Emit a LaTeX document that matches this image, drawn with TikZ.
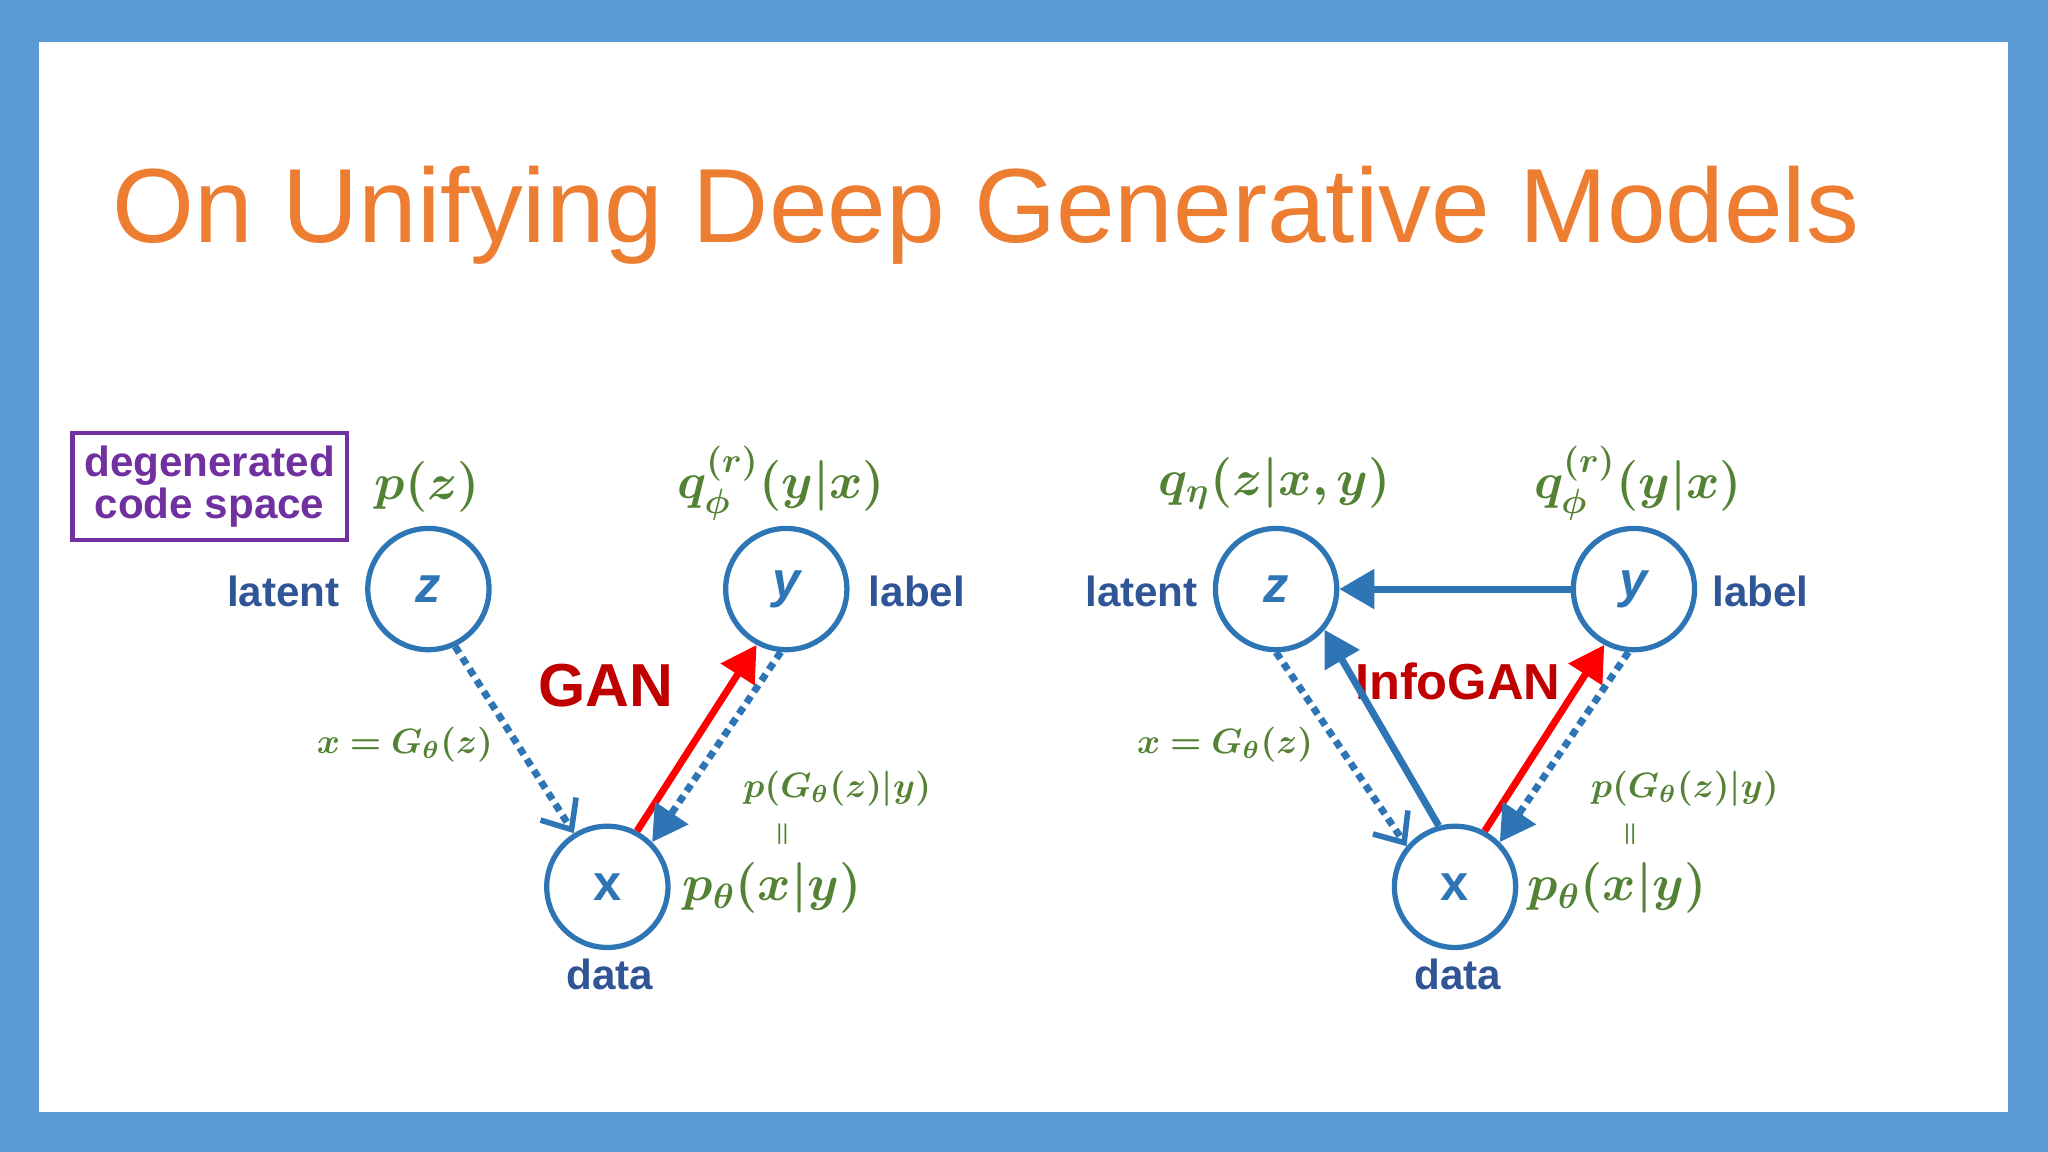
\documentclass[tikz,border=0pt]{standalone}
\usepackage{fontspec}
\setmainfont{Liberation Sans}
\usepackage{amsmath,bm}
\usetikzlibrary{arrows.meta}
\definecolor{frame}{HTML}{5B9BD5}
\definecolor{cblue}{HTML}{2E75B6}
\definecolor{tblue}{HTML}{2F5597}
\definecolor{orng}{HTML}{ED7D31}
\definecolor{grn}{HTML}{548235}
\definecolor{purp}{HTML}{7030A0}
\definecolor{dred}{HTML}{C00000}
\begin{document}
\begin{tikzpicture}[x=0.013061cm,y=-0.013061cm,
  var/.style={circle,draw=cblue,line width=1.5pt,minimum size=34.5pt,inner sep=0pt,font=\Large\bfseries\itshape,text=cblue},
  lab/.style={font=\bfseries\large,text=tblue},
  mth/.style={text=grn,font=\Large},
  smth/.style={text=grn,font=\normalsize},
  dotarr/.style={cblue,line width=2pt,dash pattern=on 2.2pt off 1.6pt,-{Straight Barb[length=7pt,width=12pt,line width=1.6pt]}},
  filarr/.style={cblue,line width=2pt,dash pattern=on 2.2pt off 1.6pt,-{Triangle[length=10pt,width=11pt]}},
  solarr/.style={cblue,line width=2pt,-{Triangle[length=10pt,width=11pt]}},
  redarr/.style={red,line width=2pt,-{Triangle[length=10pt,width=11pt]}},
  alg/.style={text=dred,font=\bfseries\LARGE}]
\fill[frame] (0,0) rectangle (1568,882);
\fill[white] (30,32) rectangle (1537,851);
\node[text=orng,font=\fontsize{30}{36}\selectfont] (title) at (755,165) {On Unifying Deep Generative Models};
% left
\node[draw=purp,line width=1.2pt,minimum width=78pt,minimum height=30.5pt,align=center,text=purp,font=\bfseries\large,inner sep=1pt] (box) at (160.5,372.5) {degenerated\\[-2pt]code space};
\node[var] (z) at (328,451) {z};
\node[var] (y) at (602,451) {y};
\node[var,font=\Large\bfseries] (x) at (465,679) {x};
\node[lab] (lz) at (217,453) {latent};
\node[lab] (ly) at (702,453) {label};
\node[lab] (lx) at (467,746) {data};
\node[mth] (pz) at (327,373) {$\bm{p(z)}$};
\node[mth] (qy) at (598,370) {$\bm{q_\phi^{(r)}(y|x)}$};
\node[smth] (gz) at (310,570) {$\bm{x=G_\theta(z)}$};
\node[smth] (pg) at (641,604) {$\bm{p(G_\theta(z)|y)}$};
\node[smth,rotate=90,font=\scriptsize] (eq) at (600,639) {$\bm{=}$};
\node[mth] (px) at (591,680) {$\bm{p_\theta(x|y)}$};
\node[alg] (gan) at (464,525) {GAN};
\draw[dotarr] (z.-65) -- (x.122);
\draw[redarr] (x.62) -- (y.-118);
\draw[filarr] (y.-95) -- (x.45);
% right
\node[var] (z2) at (977,451) {z};
\node[var] (y2) at (1251,451) {y};
\node[var,font=\Large\bfseries] (x2) at (1114,679) {x};
\node[lab] (lz2) at (874,453) {latent};
\node[lab] (ly2) at (1348,453) {label};
\node[lab] (lx2) at (1116,746) {data};
\node[mth] (qz) at (976,370) {$\bm{q_\eta(z|x,y)}$};
\node[mth] (qy2) at (1254,370) {$\bm{q_\phi^{(r)}(y|x)}$};
\node[smth] (gz2) at (938,570) {$\bm{x=G_\theta(z)}$};
\node[smth] (pg2) at (1290,604) {$\bm{p(G_\theta(z)|y)}$};
\node[smth,rotate=90,font=\scriptsize] (eq2) at (1249,639) {$\bm{=}$};
\node[mth] (px2) at (1238,680) {$\bm{p_\theta(x|y)}$};
\node[alg,font=\bfseries\Large] (igan) at (1116,522) {InfoGAN};
\draw[solarr] (y2) -- (z2);
\draw[dotarr] (z2.-90) -- (x2.140);
\draw[solarr] (x2.105) -- (z2.-40);
\draw[redarr] (x2.62) -- (y2.-118);
\draw[filarr] (y2.-95) -- (x2.45);
\end{tikzpicture}
\end{document}
